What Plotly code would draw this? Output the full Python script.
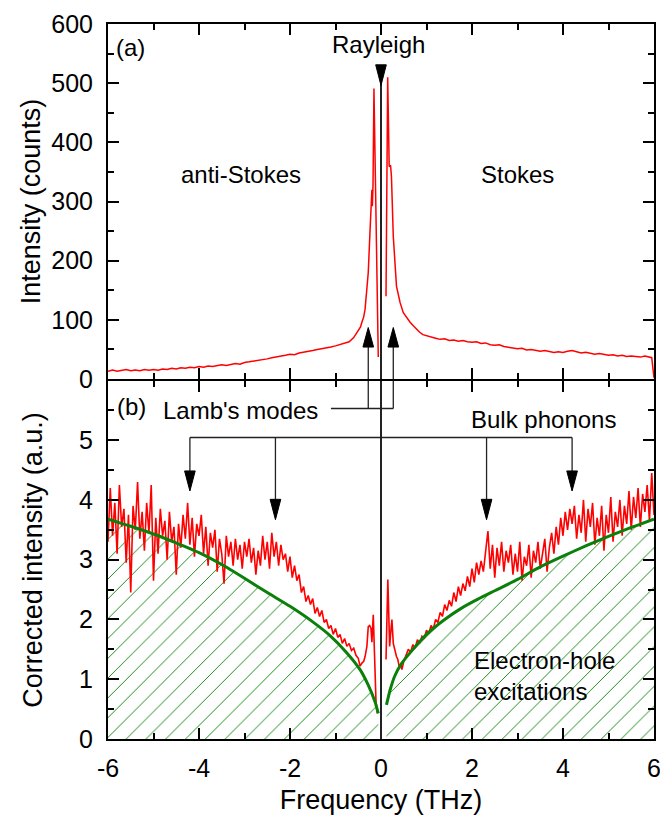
import numpy as np
import plotly.graph_objects as go

FONT = "Liberation Sans, Arial, Helvetica, sans-serif"

# ---------------- Panel (a): raw spectrum, counts ----------------
a_wing_left_x = np.linspace(-6.0, -0.5, 56)
a_wing_left_y = [13, 15, 13, 14, 16, 14, 15, 14, 16, 15,
                 16, 15, 17, 16, 18, 17, 19, 18, 20, 19,
                 21, 20, 22, 21, 23, 24, 23, 25, 26, 25,
                 28, 29, 30, 31, 33, 34, 36, 37, 39, 40,
                 42, 41, 44, 45, 47, 48, 50, 51, 53, 54,
                 56, 58, 61, 63, 70, 82]
a_core_left_x = [-0.45, -0.42, -0.38, -0.35, -0.31, -0.28, -0.24, -0.21, -0.20, -0.19, -0.175, -0.155, -0.06]
a_core_left_y = [88, 96, 105, 118, 150, 180, 252, 310, 320, 292, 330, 491, 37]
a_core_right_x = [0.11, 0.147, 0.18, 0.21, 0.23, 0.27, 0.34, 0.42, 0.49, 0.56, 0.64, 0.71, 0.78, 0.85, 0.92]
a_core_right_y = [140, 510, 359, 361, 342, 241, 157, 129, 112, 104, 96, 90, 84, 79, 75]
a_wing_right_x = np.linspace(1.0, 5.9, 50)
a_wing_right_y = [73, 71, 69, 67, 68, 65, 66, 64, 65, 63,
                  62, 63, 60, 61, 58, 57, 58, 55, 54, 52,
                  51, 52, 49, 50, 48, 47, 48, 46, 45, 46,
                  45, 47, 48, 46, 44, 45, 43, 42, 43, 41,
                  40, 41, 39, 40, 38, 39, 38, 37, 39, 37]
a_end_x = [5.95, 6.0]
a_end_y = [36, 2]

# ---------------- Panel (b): corrected intensity ----------------
b_left_x = np.linspace(-6.0, -0.5, 111)
b_left_y = [3.30, 4.20, 3.40, 3.95, 3.10, 4.25, 3.55, 3.85, 2.95, 3.75,
            2.45, 3.90, 3.50, 4.30, 3.35, 3.80, 3.15, 3.95, 3.45, 4.25,
            2.65, 3.70, 3.10, 3.85, 3.40, 3.65, 3.00, 3.80, 3.30, 3.55,
            2.75, 3.60, 3.20, 3.75, 3.35, 3.95, 3.25, 3.70, 3.05, 3.60,
            3.40, 3.75, 3.10, 3.55, 2.90, 3.45, 3.20, 3.50, 2.80, 3.35,
            3.10, 2.60, 3.40, 3.05, 3.30, 2.90, 3.35, 3.00, 3.25, 2.85,
            3.30, 3.05, 3.35, 2.95, 3.20, 2.75, 3.15, 2.90, 3.40, 3.00,
            3.30, 2.85, 3.45, 3.05, 3.30, 2.90, 3.25, 3.00, 3.10, 2.80,
            3.05, 2.70, 2.90, 2.65, 2.75, 2.45, 2.55, 2.30, 2.40, 2.25,
            2.35, 2.10, 2.20, 2.05, 2.15, 1.95, 2.00, 1.85, 1.90, 1.75,
            1.85, 1.70, 1.75, 1.60, 1.68, 1.55, 1.60, 1.48, 1.52, 1.40,
            1.35]
b_core_left_x = [-0.46, -0.42, -0.38, -0.35, -0.31, -0.28, -0.25, -0.22, -0.20, -0.17, -0.14, -0.11, -0.08]
b_core_left_y = [1.22, 1.27, 1.30, 1.38, 1.55, 1.88, 1.90, 1.85, 1.62, 2.08, 1.44, 0.63, 0.43]
b_core_right_x = [0.11, 0.13, 0.15, 0.17, 0.19, 0.21, 0.24, 0.27, 0.31, 0.34, 0.37, 0.40, 0.43, 0.46, 0.50]
b_core_right_y = [1.33, 2.00, 2.67, 2.10, 1.55, 1.75, 2.00, 1.60, 1.45, 1.38, 1.33, 1.21, 1.25, 1.16, 1.30]
b_right_x = np.linspace(0.55, 6.0, 110)
b_right_y = [1.42, 1.50, 1.45, 1.58, 1.52, 1.66, 1.60, 1.72, 1.68, 1.82,
             1.76, 1.90, 1.84, 2.00, 1.95, 2.12, 2.05, 2.25, 2.15, 2.32,
             2.22, 2.45, 2.30, 2.55, 2.40, 2.60, 2.48, 2.72, 2.55, 2.85,
             2.62, 2.95, 2.75, 2.98, 2.80, 3.10, 3.48, 2.85, 3.25, 2.70,
             3.20, 2.90, 3.30, 2.80, 3.15, 2.95, 3.25, 2.75, 3.10, 2.80,
             3.30, 2.65, 3.05, 2.90, 3.25, 2.70, 3.15, 2.95, 3.30, 2.85,
             3.10, 3.35, 2.80, 3.20, 3.45, 3.10, 3.55, 3.25, 3.70, 3.40,
             3.80, 3.50, 3.85, 3.60, 3.90, 3.35, 3.75, 3.45, 4.00, 3.30,
             3.85, 3.55, 3.95, 3.25, 3.70, 3.40, 3.90, 3.15, 3.75, 3.45,
             4.05, 3.30, 3.80, 3.55, 4.00, 3.40, 3.90, 3.60, 4.15, 3.50,
             4.05, 3.70, 4.20, 3.55, 4.10, 3.80, 4.25, 3.65, 4.45, 3.75]

# Electron-hole continuum (fit curve)
eh_left_x = [-6.0, -5.5, -5.0, -4.5, -4.0, -3.5, -3.0, -2.5, -2.0, -1.5, -1.12, -0.75, -0.46, -0.28, -0.13, -0.06]
eh_left_y = [3.68, 3.56, 3.43, 3.28, 3.12, 2.92, 2.69, 2.45, 2.22, 1.96, 1.73, 1.44, 1.16, 0.90, 0.62, 0.43]
eh_right_x = [0.12, 0.2, 0.3, 0.45, 0.67, 1.03, 1.4, 1.77, 2.13, 2.5, 3.0, 3.5, 4.0, 4.5, 5.0, 5.5, 6.0]
eh_right_y = [0.57, 0.82, 1.05, 1.26, 1.47, 1.77, 2.0, 2.19, 2.34, 2.48, 2.67, 2.88, 3.06, 3.23, 3.39, 3.54, 3.68]

# Mode positions (THz)
lamb_x = [-0.28, 0.27]
bulk_x = [-4.2, -2.32, 2.32, 4.2]

x_tickvals = [-6, -4, -2, 0, 2, 4, 6]
x_ticktext = ["-6", "-4", "-2", "0", "2", "4", "6"]

RED = "#ff0000"
GREEN = "#0a800a"
HATCH = "#1a8c1a"

fig = go.Figure()

a_x = list(a_wing_left_x) + a_core_left_x + [None] + a_core_right_x + list(a_wing_right_x) + a_end_x
a_y = list(a_wing_left_y) + a_core_left_y + [None] + a_core_right_y + list(a_wing_right_y) + a_end_y
fig.add_trace(go.Scatter(x=a_x, y=a_y, mode="lines", line=dict(color=RED, width=1.5),
                         xaxis="x2", yaxis="y2", connectgaps=False))

pattern = dict(shape="/", fgcolor=HATCH, fgopacity=1, bgcolor="rgba(255,255,255,0)", size=14, solidity=0.07)
for ex, ey in [(eh_left_x, eh_left_y), (eh_right_x, eh_right_y)]:
    fig.add_trace(go.Scatter(x=ex, y=ey, mode="lines", line=dict(width=0, shape="spline", smoothing=0.6),
                             fill="tozeroy", fillcolor="rgba(255,255,255,0)", fillpattern=pattern,
                             xaxis="x", yaxis="y"))

b_x = list(b_left_x) + b_core_left_x + [None] + b_core_right_x + list(b_right_x)
b_y = list(b_left_y) + b_core_left_y + [None] + b_core_right_y + list(b_right_y)
fig.add_trace(go.Scatter(x=b_x, y=b_y, mode="lines", line=dict(color=RED, width=1.6),
                         xaxis="x", yaxis="y", connectgaps=False))

for ex, ey in [(eh_left_x, eh_left_y), (eh_right_x, eh_right_y)]:
    fig.add_trace(go.Scatter(x=ex, y=ey, mode="lines",
                             line=dict(color=GREEN, width=3, shape="spline", smoothing=0.6),
                             xaxis="x", yaxis="y"))

axis_common = dict(showline=True, linewidth=2, linecolor="black", mirror="ticks",
                   ticks="inside", ticklen=11, tickwidth=2, tickcolor="black",
                   showgrid=False, zeroline=False,
                   tickfont=dict(family=FONT, size=25, color="black"))
minor_common = dict(ticks="inside", ticklen=6, tickwidth=2, tickcolor="black", showgrid=False)

BOT_TOP = 358 / 715
TOP_BOT = 360 / 715

fig.update_layout(
    width=660, height=815,
    margin=dict(l=108, r=6, t=24, b=76, autoexpand=False),
    paper_bgcolor="white", plot_bgcolor="white", showlegend=False,
    font=dict(family=FONT, size=24, color="black"),
    xaxis=dict(axis_common, domain=[0, 1], anchor="y", range=[-6, 6],
               tickmode="array", tickvals=x_tickvals, ticktext=x_ticktext, ticklabeloverflow="allow",
               minor=dict(minor_common, tickmode="linear", dtick=1, tick0=-6), ticklabelstandoff=6,
               title=dict(text="Frequency (THz)", font=dict(family=FONT, size=27), standoff=10)),
    yaxis=dict(axis_common, domain=[0, BOT_TOP], anchor="x", range=[0, 5.99],
               tickmode="array", tickvals=[0, 1, 2, 3, 4, 5],
               minor=dict(minor_common, tickmode="linear", tick0=0, dtick=0.5), ticklabelstandoff=8,
               title=dict(text="Corrected intensity (a.u.)", font=dict(family=FONT, size=27), standoff=29)),
    xaxis2=dict(axis_common, domain=[0, 1], anchor="y2", range=[-6, 6], matches="x",
                tickmode="array", tickvals=x_tickvals, showticklabels=False,
                minor=dict(minor_common, tickmode="linear", dtick=1, tick0=-6)),
    yaxis2=dict(axis_common, domain=[TOP_BOT, 1], anchor="x2", range=[0, 600], dtick=100,
                minor=dict(minor_common, dtick=50), ticklabelstandoff=8,
                title=dict(text="Intensity (counts)", font=dict(family=FONT, size=27), standoff=3)),
)

LC = "#222222"
HW = 0.117
shapes = []
# Rayleigh marker: vertical line through both panels
shapes.append(dict(type="line", xref="x", yref="y2", x0=0, x1=0, y0=0, y1=528, line=dict(color=LC, width=2)))
shapes.append(dict(type="line", xref="x", yref="y domain", x0=0, x1=0, y0=0, y1=1, line=dict(color=LC, width=2)))
shapes.append(dict(type="path", xref="x", yref="y2", path=f"M {-HW},531 L {HW},531 L 0,496 Z",
                   fillcolor="black", line=dict(color="black", width=1)))
# Lamb's modes arrows
for lx in lamb_x:
    shapes.append(dict(type="line", xref="x", yref="y2", x0=lx, x1=lx, y0=0, y1=54, line=dict(color=LC, width=1.3)))
    shapes.append(dict(type="line", xref="x", yref="y domain", x0=lx, x1=lx, y0=5.53 / 5.99, y1=1,
                       line=dict(color=LC, width=1.3)))
    shapes.append(dict(type="path", xref="x", yref="y2",
                       path=f"M {lx-HW},54 L {lx+HW},54 L {lx},87 Z",
                       fillcolor="black", line=dict(color="black", width=1)))
shapes.append(dict(type="line", xref="x", yref="y", x0=-1.10, x1=lamb_x[1], y0=5.53, y1=5.53,
                   line=dict(color=LC, width=1.3)))
# Bulk phonon arrows
shapes.append(dict(type="line", xref="x", yref="y", x0=bulk_x[0], x1=bulk_x[-1], y0=5.045, y1=5.045,
                   line=dict(color=LC, width=1.3)))
for bx in bulk_x:
    outer = abs(bx) > 3
    base, tip = (4.485, 4.15) if outer else (4.01, 3.67)
    shapes.append(dict(type="line", xref="x", yref="y", x0=bx, x1=bx, y0=base, y1=5.045,
                       line=dict(color=LC, width=1.3)))
    shapes.append(dict(type="path", xref="x", yref="y",
                       path=f"M {bx-HW},{base} L {bx+HW},{base} L {bx},{tip} Z",
                       fillcolor="black", line=dict(color="black", width=1)))
fig.update_layout(shapes=shapes)

ann = [
    dict(text="(a)", x=-5.87, y=560, xref="x2", yref="y2", xanchor="left", yanchor="middle"),
    dict(text="Rayleigh", x=-0.06, y=566, xref="x2", yref="y2", xanchor="center", yanchor="middle"),
    dict(text="anti-Stokes", x=-3.07, y=345, xref="x2", yref="y2", xanchor="center", yanchor="middle"),
    dict(text="Stokes", x=2.99, y=345, xref="x2", yref="y2", xanchor="center", yanchor="middle"),
    dict(text="(b)", x=-5.85, y=5.57, xref="x", yref="y", xanchor="left", yanchor="middle"),
    dict(text="Lamb's modes", x=-3.08, y=5.50, xref="x", yref="y", xanchor="center", yanchor="middle"),
    dict(text="Bulk phonons", x=3.57, y=5.35, xref="x", yref="y", xanchor="center", yanchor="middle"),
    dict(text="Electron-hole<br>excitations", x=2.0, y=1.06, xref="x", yref="y",
         xanchor="left", yanchor="middle", align="left"),
]
for a in ann:
    a.update(showarrow=False, font=dict(family=FONT, size=24, color="black"))
fig.update_layout(annotations=ann)

fig.write_html("out.html")
